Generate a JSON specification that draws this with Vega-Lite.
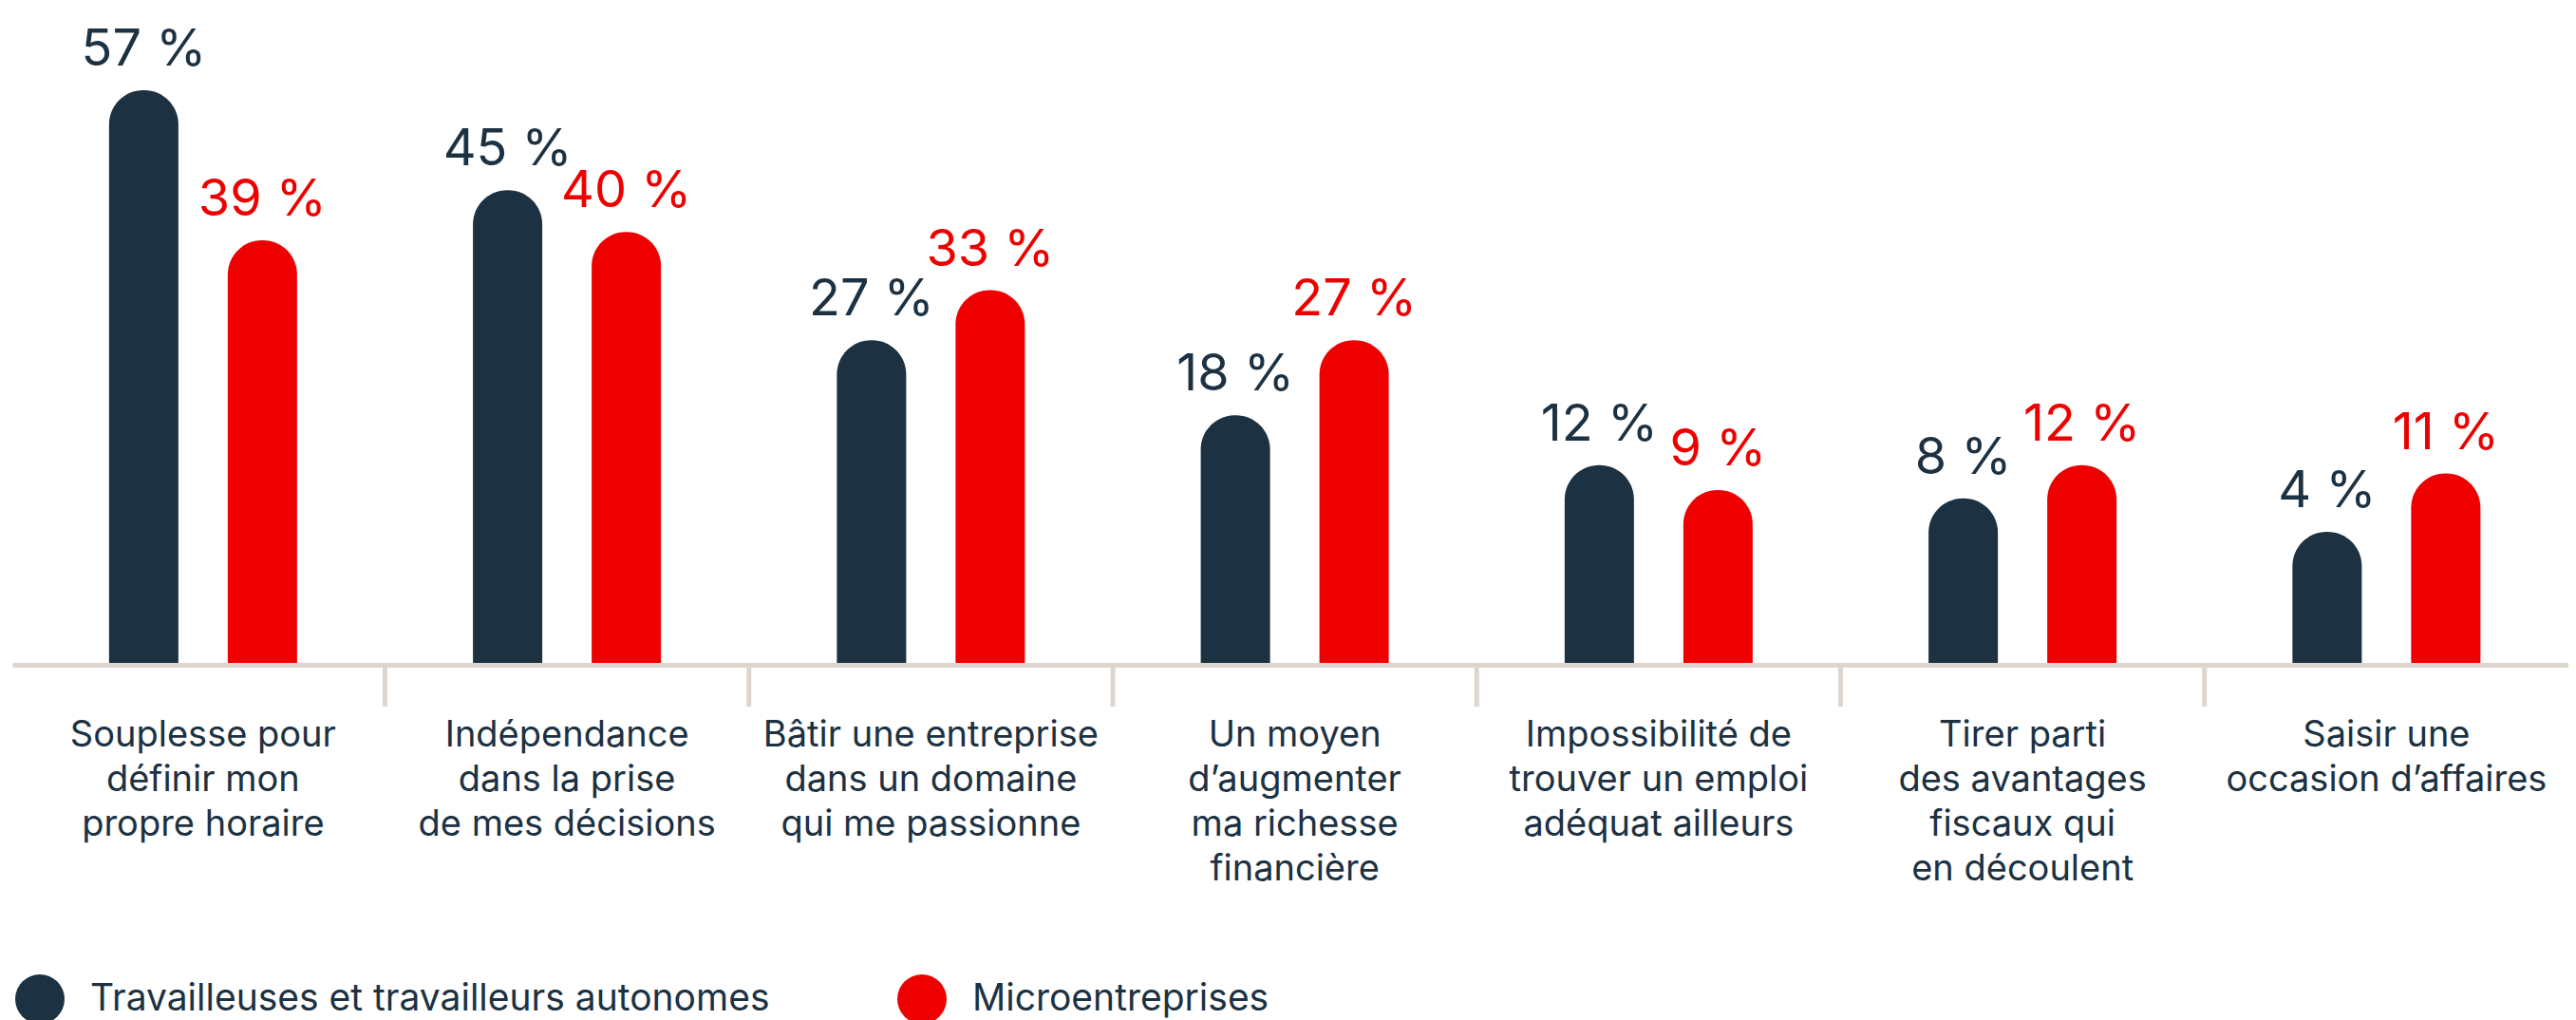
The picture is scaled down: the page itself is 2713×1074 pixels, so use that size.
{
  "$schema": "https://vega.github.io/schema/vega-lite/v6.json",
  "width": 2692,
  "height": 700,
  "autosize": {"type": "pad"},
  "padding": {"left": 13, "top": 0, "right": 0, "bottom": 0},
  "background": "white",
  "config": {"view": {"stroke": null}, "font": "Inter"},
  "datasets": {
    "bars": [
      {"cat": "Souplesse pour|définir mon|propre horaire", "grp": "Travailleuses et travailleurs autonomes", "value": 57},
      {"cat": "Souplesse pour|définir mon|propre horaire", "grp": "Microentreprises", "value": 39},
      {"cat": "Indépendance|dans la prise|de mes décisions", "grp": "Travailleuses et travailleurs autonomes", "value": 45},
      {"cat": "Indépendance|dans la prise|de mes décisions", "grp": "Microentreprises", "value": 40},
      {"cat": "Bâtir une entreprise|dans un domaine|qui me passionne", "grp": "Travailleuses et travailleurs autonomes", "value": 27},
      {"cat": "Bâtir une entreprise|dans un domaine|qui me passionne", "grp": "Microentreprises", "value": 33},
      {"cat": "Un moyen|d’augmenter|ma richesse|financière", "grp": "Travailleuses et travailleurs autonomes", "value": 18},
      {"cat": "Un moyen|d’augmenter|ma richesse|financière", "grp": "Microentreprises", "value": 27},
      {"cat": "Impossibilité de|trouver un emploi|adéquat ailleurs", "grp": "Travailleuses et travailleurs autonomes", "value": 12},
      {"cat": "Impossibilité de|trouver un emploi|adéquat ailleurs", "grp": "Microentreprises", "value": 9},
      {"cat": "Tirer parti|des avantages|fiscaux qui|en découlent", "grp": "Travailleuses et travailleurs autonomes", "value": 8},
      {"cat": "Tirer parti|des avantages|fiscaux qui|en découlent", "grp": "Microentreprises", "value": 12},
      {"cat": "Saisir une|occasion d’affaires", "grp": "Travailleuses et travailleurs autonomes", "value": 4},
      {"cat": "Saisir une|occasion d’affaires", "grp": "Microentreprises", "value": 11}
    ]
  },
  "data": {"name": "bars"},
  "layer": [
    {
      "transform": [{"filter": "datum.grp === 'Microentreprises' && datum.value !== 39"}],
      "mark": {"type": "rule", "color": "#ddd6cf", "strokeWidth": 5},
      "encoding": {
        "x": {"field": "cat", "type": "nominal", "bandPosition": 0},
        "y": {"datum": -11.97, "type": "quantitative"},
        "y2": {"datum": -17.0}
      }
    },
    {
      "mark": {"type": "bar", "cornerRadiusTopLeft": 36, "cornerRadiusTopRight": 36},
      "encoding": {
        "x": {"field": "cat", "type": "nominal"},
        "xOffset": {
          "field": "grp",
          "type": "nominal",
          "scale": {"domain": ["Travailleuses et travailleurs autonomes", "Microentreprises"], "paddingInner": 0.416, "paddingOuter": 0.741}
        },
        "y": {"field": "value", "type": "quantitative"},
        "y2": {"datum": -11.97},
        "color": {
          "field": "grp",
          "type": "nominal",
          "scale": {"domain": ["Travailleuses et travailleurs autonomes", "Microentreprises"], "range": ["#1c3142", "#ee0000"]},
          "legend": {
            "orient": "none",
            "legendX": 3,
            "legendY": 1026,
            "direction": "horizontal",
            "columns": 2,
            "title": null,
            "padding": 0,
            "symbolType": "circle",
            "symbolSize": 2704,
            "symbolStrokeWidth": 0,
            "labelFont": "Inter",
            "labelFontSize": 39,
            "labelColor": "#1c3142",
            "labelOffset": 27,
            "labelLimit": 0,
            "columnPadding": 134
          }
        }
      }
    },
    {
      "mark": {"type": "text", "baseline": "alphabetic", "align": "center", "dy": -26, "fontSize": 54, "font": "Inter", "text": {"expr": "datum.value + ' %'"}},
      "encoding": {
        "x": {"field": "cat", "type": "nominal"},
        "xOffset": {"field": "grp", "type": "nominal"},
        "y": {"field": "value", "type": "quantitative"},
        "color": {"condition": {"test": "datum.grp === 'Microentreprises'", "value": "#ee0000"}, "value": "#1c3142"}
      }
    }
  ],
  "resolve": {"scale": {"x": "shared", "y": "shared", "xOffset": "shared"}},
  "encoding": {
    "x": {
      "field": "cat",
      "type": "nominal",
      "scale": {
        "domain": [
          "Souplesse pour|définir mon|propre horaire",
          "Indépendance|dans la prise|de mes décisions",
          "Bâtir une entreprise|dans un domaine|qui me passionne",
          "Un moyen|d’augmenter|ma richesse|financière",
          "Impossibilité de|trouver un emploi|adéquat ailleurs",
          "Tirer parti|des avantages|fiscaux qui|en découlent",
          "Saisir une|occasion d’affaires"
        ],
        "paddingInner": 0,
        "paddingOuter": 0.01206,
        "align": 1
      },
      "axis": {
        "title": null,
        "labelAngle": 0,
        "labelExpr": "split(datum.label, '|')",
        "labelFont": "Inter",
        "labelFontSize": 38,
        "labelLineHeight": 47,
        "labelColor": "#1c3142",
        "labelPadding": 55,
        "labelBaseline": "top",
        "labelLimit": 0,
        "labelOverlap": false,
        "labelBound": false,
        "ticks": false,
        "tickSize": 0,
        "domainColor": "#ddd6cf",
        "domainWidth": 5,
        "zindex": 1,
        "grid": false
      }
    },
    "y": {
      "field": "value",
      "type": "quantitative",
      "scale": {"domain": [-11.97, 67.84], "zero": false, "nice": false},
      "axis": null
    }
  }
}
